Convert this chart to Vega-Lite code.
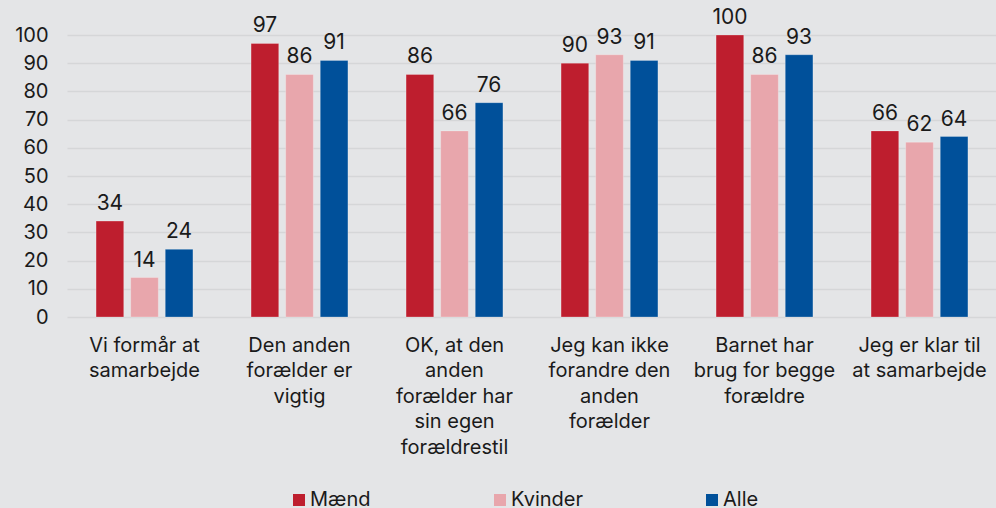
{
  "$schema": "https://vega.github.io/schema/vega-lite/v6.json",
  "autosize": "none",
  "width": 930,
  "height": 282,
  "padding": {"left": 67, "top": 35, "right": 0, "bottom": 191},
  "background": "#e4e5e7",
  "config": {
    "font": "Inter",
    "view": {"stroke": null},
    "axis": {"labelFont": "Inter", "labelColor": "#1a1a1a"}
  },
  "data": {
    "values": [
      {"cat": "Vi formår at|samarbejde", "grp": "Mænd", "v": 34},
      {"cat": "Vi formår at|samarbejde", "grp": "Kvinder", "v": 14},
      {"cat": "Vi formår at|samarbejde", "grp": "Alle", "v": 24},
      {"cat": "Den anden|forælder er|vigtig", "grp": "Mænd", "v": 97},
      {"cat": "Den anden|forælder er|vigtig", "grp": "Kvinder", "v": 86},
      {"cat": "Den anden|forælder er|vigtig", "grp": "Alle", "v": 91},
      {"cat": "OK, at den|anden|forælder har|sin egen|forældrestil", "grp": "Mænd", "v": 86},
      {"cat": "OK, at den|anden|forælder har|sin egen|forældrestil", "grp": "Kvinder", "v": 66},
      {"cat": "OK, at den|anden|forælder har|sin egen|forældrestil", "grp": "Alle", "v": 76},
      {"cat": "Jeg kan ikke|forandre den|anden|forælder", "grp": "Mænd", "v": 90},
      {"cat": "Jeg kan ikke|forandre den|anden|forælder", "grp": "Kvinder", "v": 93},
      {"cat": "Jeg kan ikke|forandre den|anden|forælder", "grp": "Alle", "v": 91},
      {"cat": "Barnet har|brug for begge|forældre", "grp": "Mænd", "v": 100},
      {"cat": "Barnet har|brug for begge|forældre", "grp": "Kvinder", "v": 86},
      {"cat": "Barnet har|brug for begge|forældre", "grp": "Alle", "v": 93},
      {"cat": "Jeg er klar til|at samarbejde", "grp": "Mænd", "v": 66},
      {"cat": "Jeg er klar til|at samarbejde", "grp": "Kvinder", "v": 62},
      {"cat": "Jeg er klar til|at samarbejde", "grp": "Alle", "v": 64}
    ]
  },
  "encoding": {
    "x": {
      "field": "cat",
      "type": "nominal",
      "sort": null,
      "scale": {"paddingInner": 0.375, "paddingOuter": 0.1875},
      "axis": {
        "title": null,
        "labelAngle": 0,
        "labelExpr": "split(datum.label, '|')",
        "labelFontSize": 20,
        "labelLineHeight": 25.5,
        "labelPadding": 18,
        "labelBaseline": "top",
        "labelOverlap": false,
        "ticks": false,
        "domain": false,
        "labelLimit": 200
      }
    },
    "xOffset": {
      "field": "grp",
      "type": "nominal",
      "sort": ["Mænd", "Kvinder", "Alle"],
      "scale": {"paddingInner": 0.2, "paddingOuter": 0}
    },
    "y": {
      "field": "v",
      "type": "quantitative",
      "scale": {"domain": [0, 100], "nice": false},
      "axis": {
        "title": null,
        "values": [0, 10, 20, 30, 40, 50, 60, 70, 80, 90, 100],
        "labelFontSize": 20,
        "labelPadding": 19,
        "labelOverlap": false,
        "ticks": false,
        "domain": false,
        "grid": true,
        "gridColor": "#d5d6d8",
        "gridWidth": 1.5
      }
    }
  },
  "layer": [
    {
      "mark": {"type": "bar", "stroke": "#ffffff", "strokeOpacity": 0.25, "strokeWidth": 1},
      "encoding": {
        "color": {
          "field": "grp",
          "type": "nominal",
          "sort": ["Mænd", "Kvinder", "Alle"],
          "scale": {"domain": ["Mænd", "Kvinder", "Alle"], "range": ["#be1e2e", "#e8a6ac", "#00509a"]},
          "legend": {
            "title": null,
            "orient": "none",
            "direction": "horizontal",
            "legendX": 222,
            "legendY": 455,
            "symbolType": "square",
            "symbolSize": 144,
            "symbolStrokeWidth": 0,
            "labelFontSize": 20,
            "labelFont": "Inter",
            "labelColor": "#1a1a1a",
            "labelOffset": 1,
            "columns": 3,
            "gridAlign": "none",
            "columnPadding": 119
          }
        }
      }
    },
    {
      "mark": {"type": "text", "baseline": "bottom", "dy": -7, "fontSize": 21, "font": "Inter", "color": "#1a1a1a"},
      "encoding": {
        "text": {"field": "v", "type": "quantitative"}
      }
    }
  ]
}
